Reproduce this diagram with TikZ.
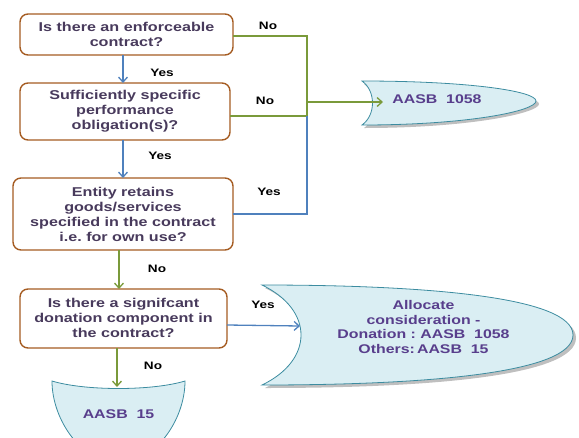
\documentclass[tikz,border=0pt]{standalone}
\usepackage{fontspec}
\setmainfont{Liberation Sans}[FakeStretch=1.26]
\usetikzlibrary{arrows.meta}
\definecolor{boxbrd}{RGB}{165,92,34}
\definecolor{boxtxt}{RGB}{72,58,92}
\definecolor{shptxt}{RGB}{88,62,140}
\definecolor{shpfill}{RGB}{218,238,243}
\definecolor{shpbrd}{RGB}{60,140,160}
\definecolor{ablue}{RGB}{79,129,189}
\definecolor{agreen}{RGB}{122,154,58}
\tikzset{
  qbox/.style={draw=boxbrd, line width=1.4pt, rounded corners=8pt, fill=white},
  qtext/.style={align=center, text=boxtxt, font=\fontsize{12.8}{15}\selectfont\bfseries, inner sep=0pt},
  lbl/.style={text=black, font=\fontsize{10.8}{13}\selectfont\bfseries, inner sep=0pt},
  stext/.style={align=center, text=shptxt, font=\fontsize{12.6}{14.5}\selectfont\bfseries, inner sep=0pt},
  shp/.style={draw=shpbrd, line width=0.8pt, fill=shpfill},
  shadowshp/.style={fill=black!25, draw=none},
  barrow/.style={draw=ablue, line width=1.3pt, -{Straight Barb[length=5pt,width=9pt]}},
  garrow/.style={draw=agreen, line width=1.3pt, -{Straight Barb[length=5pt,width=9pt]}},
  bline/.style={draw=ablue, line width=1.3pt},
  gline/.style={draw=agreen, line width=1.3pt}
}
\begin{document}
\begin{tikzpicture}[x=1pt,y=-1pt]
\useasboundingbox (0,0) rectangle (579,437);
% question boxes
\draw[qbox] (20,14) rectangle (233,55);
\node[qtext] (q1) at (126.5,34.5) {Is there an enforceable\\contract?};
\coordinate (q1s) at (123,55);
\coordinate (q1e) at (233,36);
\draw[qbox] (20,83) rectangle (230,140);
\node[qtext] (q2) at (125,111.5) {Sufficiently specific\\performance\\obligation(s)?};
\coordinate (q2n) at (123,83);
\coordinate (q2s) at (123,140);
\coordinate (q2e) at (230,116);
\draw[qbox] (13,178) rectangle (233,250);
\node[qtext] (q3) at (123,214) {Entity retains\\goods/services\\specified in the contract\\i.e.\ for own use?};
\coordinate (q3n) at (123,178);
\coordinate (q3s) at (119,250);
\coordinate (q3e) at (233,214);
\draw[qbox] (20,289) rectangle (227,348);
\node[qtext] (q4) at (123.5,318) {Is there a signifcant\\donation component in\\the contract?};
\coordinate (q4n) at (119,289);
\coordinate (q4s) at (117,348);
\coordinate (q4e) at (227,325);
% AASB 1058 shape
\fill[shadowshp] (364,84) .. controls (470,84) and (539,95) .. (539,104) .. controls (539,113) and (470,128) .. (364,128) .. controls (378,118) and (378,94) .. (364,84) -- cycle;
\draw[shp] (362,81) .. controls (468,81) and (536,91) .. (536,101) .. controls (536,111) and (468,125) .. (362,125) .. controls (376,115) and (376,91) .. (362,81) -- cycle;
\coordinate (a1058w) at (383,102);
\node[stext] (a1058) at (437,99.5) {AASB\ \ 1058};
% Allocate shape
\fill[shadowshp] (265,288) .. controls (430,288) and (576,300) .. (576,338) .. controls (576,376) and (430,388) .. (265,388) .. controls (317,363) and (317,313) .. (265,288) -- cycle;
\draw[shp] (262,285) .. controls (427,285) and (573,297) .. (573,335) .. controls (573,373) and (427,385) .. (262,385) .. controls (314,360) and (314,310) .. (262,285) -- cycle;
\coordinate (allw) at (300,326);
\node[stext] (alloc) at (423.5,327) {Allocate\\consideration -\\Donation :\ AASB\ \ 1058\\Others:\,AASB\ \ 15};
% AASB 15 shape
\begin{scope}
\clip (0,0) rectangle (579,437);
\draw[shp] (52,381) .. controls (85,391) and (152,391) .. (185,381) .. controls (185,420) and (155,463) .. (118.5,463) .. controls (82,463) and (52,420) .. (52,381) -- cycle;
\end{scope}
\coordinate (a15n) at (117,387);
\node[stext] (a15) at (118.5,414) {AASB\ \ 15};
% connectors
\coordinate (j1) at (307,36);
\coordinate (j2) at (307,116);
\coordinate (j3) at (307,214);
\coordinate (jm) at (307,102);
\draw[gline] (q1e) -- (j1) -- (j2);
\draw[gline] (q2e) -- (j2);
\draw[bline] (q3e) -- (j3) -- (j2);
\draw[garrow] (jm) -- (a1058w);
\draw[barrow] (q1s) -- (q2n);
\draw[barrow] (q2s) -- (q3n);
\draw[garrow] (q3s) -- (q4n);
\draw[garrow] (q4s) -- (a15n);
\draw[barrow] (q4e) -- (allw);
% labels
\node[lbl] (l1) at (268,26) {No};
\node[lbl] (l2) at (162,73) {Yes};
\node[lbl] (l3) at (265,101) {No};
\node[lbl] (l4) at (160,156) {Yes};
\node[lbl] (l5) at (269,192) {Yes};
\node[lbl] (l6) at (157,269) {No};
\node[lbl] (l7) at (263,305) {Yes};
\node[lbl] (l8) at (153,366) {No};
\end{tikzpicture}
\end{document}
